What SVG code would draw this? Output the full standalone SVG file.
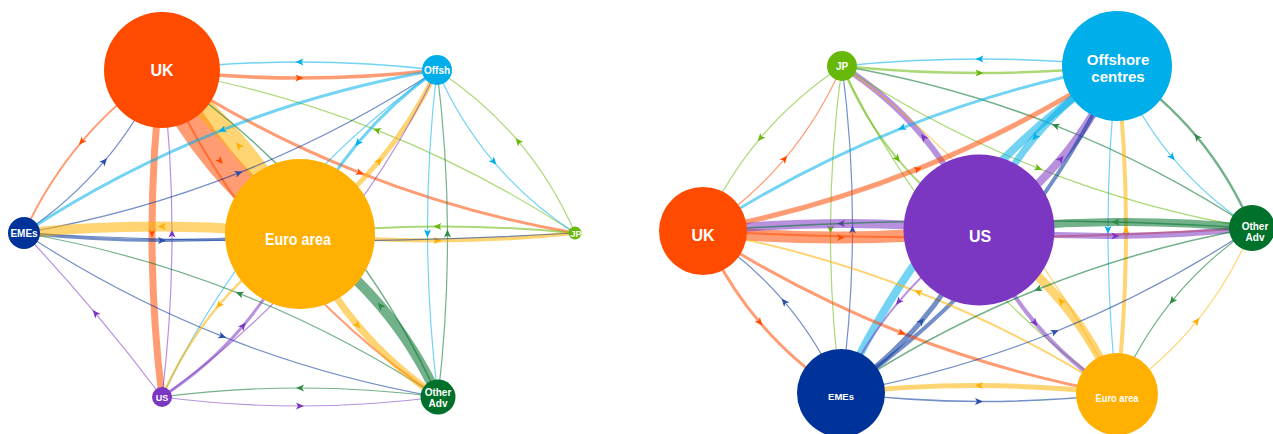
<svg xmlns="http://www.w3.org/2000/svg" width="1273" height="434" viewBox="0 0 1273 434">
  <style>
    .e{fill:none;stroke-opacity:.55}
    .uk{stroke:#FF4B00;marker-mid:url(#a-uk)}
    .off{stroke:#00AEEA;marker-mid:url(#a-off)}
    .jp{stroke:#68B80A;marker-mid:url(#a-jp)}
    .em{stroke:#003399;marker-mid:url(#a-em)}
    .ea{stroke:#FFB000;marker-mid:url(#a-ea)}
    .us{stroke:#7B36C2;marker-mid:url(#a-us)}
    .oa{stroke:#00712A;marker-mid:url(#a-oa)}
    text{fill:#fff;font-family:"Liberation Sans",Arial,sans-serif;font-weight:bold;text-anchor:middle}
  </style>
  <defs>
    <marker id="a-uk" viewBox="-5 -5 10 10" markerWidth="10" markerHeight="10" markerUnits="userSpaceOnUse" orient="auto"><path d="M4,0 L-4,-3.5 L-2,0 L-4,3.5 Z" fill="#FF4B00"/></marker>
    <marker id="a-off" viewBox="-5 -5 10 10" markerWidth="10" markerHeight="10" markerUnits="userSpaceOnUse" orient="auto"><path d="M4,0 L-4,-3.5 L-2,0 L-4,3.5 Z" fill="#00AEEA"/></marker>
    <marker id="a-jp" viewBox="-5 -5 10 10" markerWidth="10" markerHeight="10" markerUnits="userSpaceOnUse" orient="auto"><path d="M4,0 L-4,-3.5 L-2,0 L-4,3.5 Z" fill="#68B80A"/></marker>
    <marker id="a-em" viewBox="-5 -5 10 10" markerWidth="10" markerHeight="10" markerUnits="userSpaceOnUse" orient="auto"><path d="M4,0 L-4,-3.5 L-2,0 L-4,3.5 Z" fill="#2A4FA8"/></marker>
    <marker id="a-ea" viewBox="-5 -5 10 10" markerWidth="10" markerHeight="10" markerUnits="userSpaceOnUse" orient="auto"><path d="M4,0 L-4,-3.5 L-2,0 L-4,3.5 Z" fill="#FFB000"/></marker>
    <marker id="a-us" viewBox="-5 -5 10 10" markerWidth="10" markerHeight="10" markerUnits="userSpaceOnUse" orient="auto"><path d="M4,0 L-4,-3.5 L-2,0 L-4,3.5 Z" fill="#7B36C2"/></marker>
    <marker id="a-oa" viewBox="-5 -5 10 10" markerWidth="10" markerHeight="10" markerUnits="userSpaceOnUse" orient="auto"><path d="M4,0 L-4,-3.5 L-2,0 L-4,3.5 Z" fill="#2E8A45"/></marker>
  </defs>

  <!-- left network: flows between regions, coloured by source -->
  <g id="left-connectors">
    <path class="e uk" stroke-width="30" d="M162,70 Q185.8,120 220.3,161 Q254.8,202 300,234"/>
    <path class="e ea" stroke-width="20" d="M300,234 Q273.2,186.6 238.7,145.6 Q204.2,104.6 162,70"/>
    <path class="e uk" stroke-width="3.5" d="M162,70 Q230.75,78 299.5,78 Q368.25,78 437,70"/>
    <path class="e off" stroke-width="1.5" d="M437,70 Q368.25,62 299.5,62 Q230.75,62 162,70"/>
    <path class="e uk" stroke-width="3" d="M162,70 Q256.8,132.2 360.1,172.9 Q463.3,213.7 575,233"/>
    <path class="e jp" stroke-width="1.2" d="M575,233 Q480.2,170.9 376.9,130.1 Q273.7,89.4 162,70"/>
    <path class="e uk" stroke-width="2" d="M162,70 Q116.1,101.05 81.6,141.8 Q47.1,182.55 24,233"/>
    <path class="e em" stroke-width="1.2" d="M24,233 Q69.9,201.95 104.4,161.2 Q138.9,120.45 162,70"/>
    <path class="e uk" stroke-width="7" d="M162,70 Q152,151.75 152,233.5 Q152,315.25 162,397"/>
    <path class="e us" stroke-width="1.2" d="M162,397 Q172,315.25 172,233.5 Q172,151.75 162,70"/>
    <path class="e uk" stroke-width="2" d="M162,70 Q208.1,171.15 277.1,252.9 Q346.1,334.65 438,397"/>
    <path class="e oa" stroke-width="1.5" d="M438,397 Q391.9,295.85 322.9,214.1 Q253.9,132.35 162,70"/>
    <path class="e off" stroke-width="1.2" d="M437,70 Q459.3,121.05 493.8,161.8 Q528.3,202.55 575,233"/>
    <path class="e jp" stroke-width="1.2" d="M575,233 Q552.7,181.95 518.2,141.2 Q483.7,100.45 437,70"/>
    <path class="e off" stroke-width="3" d="M437,70 Q325.35,89.35 222.1,130.1 Q118.85,170.85 24,233"/>
    <path class="e em" stroke-width="1.2" d="M24,233 Q135.65,213.65 238.9,172.9 Q342.15,132.15 437,70"/>
    <path class="e off" stroke-width="3" d="M437,70 Q392,102 357.8,143 Q323.5,184 300,234"/>
    <path class="e ea" stroke-width="5" d="M300,234 Q345,202 379.2,161 Q413.5,120 437,70"/>
    <path class="e off" stroke-width="1.2" d="M437,70 Q346.85,133.75 278.1,215.5 Q209.35,297.25 162,397"/>
    <path class="e us" stroke-width="1.2" d="M162,397 Q252.15,333.25 320.9,251.5 Q389.65,169.75 437,70"/>
    <path class="e off" stroke-width="1.2" d="M437,70 Q427.25,151.75 427.5,233.5 Q427.75,315.25 438,397"/>
    <path class="e oa" stroke-width="1.2" d="M438,397 Q447.75,315.25 447.5,233.5 Q447.25,151.75 437,70"/>
    <path class="e jp" stroke-width="2" d="M575,233 Q506.25,226.25 437.5,226.5 Q368.75,226.75 300,234"/>
    <path class="e ea" stroke-width="4" d="M300,234 Q368.75,240.75 437.5,240.5 Q506.25,240.25 575,233"/>
    <path class="e em" stroke-width="1.2" d="M24,233 Q161.75,241 299.5,241 Q437.25,241 575,233"/>
    <path class="e em" stroke-width="3" d="M24,233 Q93,240.25 162,240.5 Q231,240.75 300,234"/>
    <path class="e ea" stroke-width="10" d="M300,234 Q231,226.75 162,226.5 Q93,226.25 24,233"/>
    <path class="e us" stroke-width="1.2" d="M162,397 Q129.8,354.1 95.3,313.1 Q60.8,272.1 24,233"/>
    <path class="e em" stroke-width="1.2" d="M24,233 Q119,295.4 222.5,336.4 Q326,377.4 438,397"/>
    <path class="e oa" stroke-width="1.2" d="M438,397 Q343,334.6 239.5,293.6 Q136,252.6 24,233"/>
    <path class="e ea" stroke-width="2.5" d="M300,234 Q253.3,264.45 218.8,305.2 Q184.3,345.95 162,397"/>
    <path class="e us" stroke-width="3" d="M162,397 Q208.7,366.55 243.2,325.8 Q277.7,285.05 300,234"/>
    <path class="e ea" stroke-width="7" d="M300,234 Q323.1,284.45 357.6,325.2 Q392.1,365.95 438,397"/>
    <path class="e oa" stroke-width="10" d="M438,397 Q414.9,346.55 380.4,305.8 Q345.9,265.05 300,234"/>
    <path class="e us" stroke-width="1.2" d="M162,397 Q231,406 300,406 Q369,406 438,397"/>
    <path class="e oa" stroke-width="1.2" d="M438,397 Q369,388 300,388 Q231,388 162,397"/>
  </g>

  <!-- right network -->
  <g id="right-connectors">
    <path class="e jp" stroke-width="2.5" d="M842,66 Q910.75,73 979.5,73 Q1048.25,73 1117,66"/>
    <path class="e off" stroke-width="1.5" d="M1117,66 Q1048.25,59 979.5,59 Q910.75,59 842,66"/>
    <path class="e jp" stroke-width="1.2" d="M842,66 Q795,97 760.3,138.2 Q725.5,179.5 703,231"/>
    <path class="e uk" stroke-width="1.2" d="M703,231 Q750,200 784.7,158.8 Q819.5,117.5 842,66"/>
    <path class="e jp" stroke-width="2" d="M842,66 Q863.2,117.9 897.5,158.9 Q931.7,199.9 979,230"/>
    <path class="e us" stroke-width="6" d="M979,230 Q957.8,178.1 923.5,137.1 Q889.2,96.1 842,66"/>
    <path class="e jp" stroke-width="1.2" d="M842,66 Q830.75,147.75 830.5,229.5 Q830.25,311.25 841,393"/>
    <path class="e em" stroke-width="1.2" d="M841,393 Q852.25,311.25 852.5,229.5 Q852.75,147.75 842,66"/>
    <path class="e jp" stroke-width="1.2" d="M842,66 Q889.25,166 958,248 Q1026.75,330 1117,394"/>
    <path class="e ea" stroke-width="1.2" d="M1117,394 Q1069.75,294 1001,212 Q932.25,130 842,66"/>
    <path class="e jp" stroke-width="1.2" d="M842,66 Q936,127.9 1038.5,168.4 Q1141,208.9 1252,228"/>
    <path class="e oa" stroke-width="1.5" d="M1252,228 Q1158,166.1 1055.5,125.6 Q953,85.1 842,66"/>
    <path class="e off" stroke-width="3" d="M1117,66 Q1005.4,86.85 901.9,128.1 Q798.4,169.35 703,231"/>
    <path class="e uk" stroke-width="5" d="M703,231 Q814.6,210.15 918.1,168.9 Q1021.6,127.65 1117,66"/>
    <path class="e off" stroke-width="7" d="M1117,66 Q1069.5,96.1 1035,137.1 Q1000.5,178.1 979,230"/>
    <path class="e us" stroke-width="8" d="M979,230 Q1026.5,199.9 1061,158.9 Q1095.5,117.9 1117,66"/>
    <path class="e off" stroke-width="1.2" d="M1117,66 Q1138.5,116.7 1172.2,157.2 Q1206,197.7 1252,228"/>
    <path class="e oa" stroke-width="2.5" d="M1252,228 Q1230.5,177.3 1196.8,136.8 Q1163,96.3 1117,66"/>
    <path class="e off" stroke-width="8" d="M1117,66 Q1025.1,128.35 956.1,210.1 Q887.1,291.85 841,393"/>
    <path class="e em" stroke-width="4" d="M841,393 Q932.9,330.65 1001.9,248.9 Q1070.9,167.15 1117,66"/>
    <path class="e off" stroke-width="1.2" d="M1117,66 Q1108,148 1108,230 Q1108,312 1117,394"/>
    <path class="e ea" stroke-width="4" d="M1117,394 Q1126,312 1126,230 Q1126,148 1117,66"/>
    <path class="e uk" stroke-width="12" d="M703,231 Q772,237.75 841,237.5 Q910,237.25 979,230"/>
    <path class="e us" stroke-width="9" d="M979,230 Q910,223.25 841,223.5 Q772,223.75 703,231"/>
    <path class="e uk" stroke-width="2" d="M703,231 Q840.25,238.25 977.5,237.5 Q1114.75,236.75 1252,228"/>
    <path class="e oa" stroke-width="1.5" d="M1252,228 Q1114.75,219.75 977.5,220.5 Q840.25,221.25 703,231"/>
    <path class="e uk" stroke-width="3" d="M703,231 Q725.3,281.9 759.8,322.4 Q794.3,362.9 841,393"/>
    <path class="e em" stroke-width="1.2" d="M841,393 Q818.7,342.1 784.2,301.6 Q749.7,261.1 703,231"/>
    <path class="e uk" stroke-width="3" d="M703,231 Q798.4,292.25 901.9,333 Q1005.4,373.75 1117,394"/>
    <path class="e ea" stroke-width="2" d="M1117,394 Q1021.6,332.75 918.1,292 Q814.6,251.25 703,231"/>
    <path class="e us" stroke-width="6" d="M979,230 Q1047.25,236.5 1115.5,236 Q1183.75,235.5 1252,228"/>
    <path class="e oa" stroke-width="8" d="M1252,228 Q1183.75,221.5 1115.5,222 Q1047.25,222.5 979,230"/>
    <path class="e us" stroke-width="2" d="M979,230 Q933.1,261.05 898.6,301.8 Q864.1,342.55 841,393"/>
    <path class="e em" stroke-width="5" d="M841,393 Q886.9,361.95 921.4,321.2 Q955.9,280.45 979,230"/>
    <path class="e us" stroke-width="4" d="M979,230 Q1000.5,281.9 1035,322.9 Q1069.5,363.9 1117,394"/>
    <path class="e ea" stroke-width="9" d="M1117,394 Q1095.5,342.1 1061,301.1 Q1026.5,260.1 979,230"/>
    <path class="e oa" stroke-width="1.5" d="M1252,228 Q1140.65,247.95 1037.9,289.2 Q935.15,330.45 841,393"/>
    <path class="e em" stroke-width="1.2" d="M841,393 Q952.35,373.05 1055.1,331.8 Q1157.85,290.55 1252,228"/>
    <path class="e oa" stroke-width="1.2" d="M1252,228 Q1205.85,259.4 1172.1,300.9 Q1138.35,342.4 1117,394"/>
    <path class="e ea" stroke-width="1.2" d="M1117,394 Q1163.15,362.6 1196.9,321.1 Q1230.65,279.6 1252,228"/>
    <path class="e em" stroke-width="1.5" d="M841,393 Q910,401.25 979,401.5 Q1048,401.75 1117,394"/>
    <path class="e ea" stroke-width="5" d="M1117,394 Q1048,385.75 979,385.5 Q910,385.25 841,393"/>
  </g>

  <!-- left nodes -->
  <g id="l-uk"><circle cx="162" cy="70" r="58" fill="#FF4B00"/><text x="162" y="76" font-size="16">UK</text></g>
  <g id="l-offsh"><circle cx="437" cy="70" r="15" fill="#00AEEA"/><text x="437" y="73.5" font-size="10">Offsh</text></g>
  <g id="l-jp"><circle cx="575" cy="233" r="6.5" fill="#68B80A"/><text x="576" y="236.5" font-size="9">JP</text></g>
  <g id="l-emes"><circle cx="24" cy="233" r="16" fill="#003399"/><text x="24" y="236.5" font-size="10">EMEs</text></g>
  <g id="l-euro"><circle cx="300" cy="234" r="75" fill="#FFB000"/><text x="298" y="245" font-size="16" textLength="66" lengthAdjust="spacingAndGlyphs">Euro area</text></g>
  <g id="l-us"><circle cx="162" cy="397" r="10" fill="#7B36C2"/><text x="162" y="400.5" font-size="9">US</text></g>
  <g id="l-other"><circle cx="438" cy="397" r="17.5" fill="#00712A"/><text x="438" y="395.5" font-size="10">Other</text><text x="438" y="406.5" font-size="10">Adv</text></g>

  <!-- right nodes -->
  <g id="r-jp"><circle cx="842" cy="66" r="15" fill="#68B80A"/><text x="842" y="70" font-size="10">JP</text></g>
  <g id="r-offshore"><circle cx="1117" cy="66" r="55" fill="#00AEEA"/><text x="1118" y="65" font-size="15">Offshore</text><text x="1118" y="82" font-size="15">centres</text></g>
  <g id="r-uk"><circle cx="703" cy="231" r="44" fill="#FF4B00"/><text x="703" y="241" font-size="16">UK</text></g>
  <g id="r-us"><circle cx="979" cy="230" r="75.5" fill="#7B36C2"/><text x="980" y="242" font-size="16">US</text></g>
  <g id="r-other"><circle cx="1252" cy="228" r="23" fill="#00712A"/><text x="1255" y="230" font-size="10">Other</text><text x="1255" y="241" font-size="10">Adv</text></g>
  <g id="r-emes"><circle cx="841" cy="393" r="44" fill="#003399"/><text x="841" y="400" font-size="9.5">EMEs</text></g>
  <g id="r-euro"><circle cx="1117" cy="394" r="41" fill="#FFB000"/><text x="1117" y="402" font-size="11" textLength="43" lengthAdjust="spacingAndGlyphs">Euro area</text></g>
</svg>
